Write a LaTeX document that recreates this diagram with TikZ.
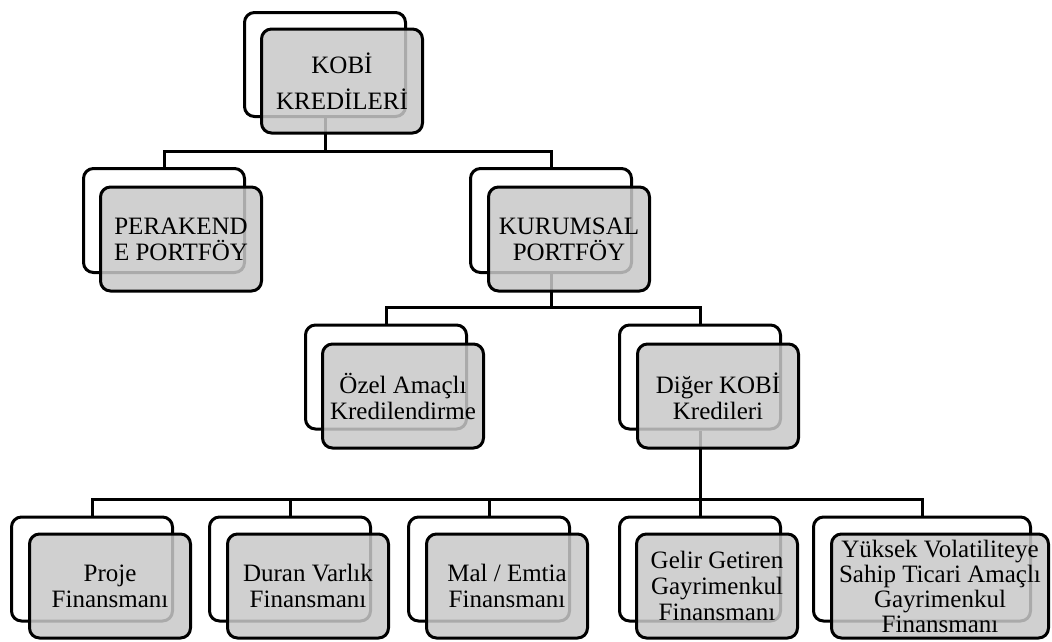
\documentclass[tikz,border=0pt]{standalone}
\usepackage{fontspec}
\setmainfont{Liberation Serif}
\definecolor{boxgray}{RGB}{200,200,200}
\tikzset{
  backbox/.style={draw, line width=3pt, rounded corners=10pt, fill=white,
    minimum width=161pt, minimum height=104pt},
  frontbox/.style={draw, line width=3pt, rounded corners=10pt, fill=boxgray,
    fill opacity=0.85, text opacity=1, minimum width=161pt, minimum height=104pt,
    align=center, inner sep=2pt, font=\fontsize{25}{26}\selectfont},
  link/.style={draw, line width=3pt}
}
\begin{document}
\begin{tikzpicture}[x=1pt,y=-1pt]
\useasboundingbox (0,0) rectangle (1052,641);

% back boxes
\node[backbox] (kobiB) at (325,64.5) {};
\node[backbox] (perB) at (164,220.5) {};
\node[backbox] (kurB) at (551,220.5) {};
\node[backbox] (ozelB) at (386,377) {};
\node[backbox] (digB) at (700,377) {};
\node[backbox] (p1B) at (92,569) {};
\node[backbox] (p2B) at (290,569) {};
\node[backbox] (p3B) at (489,569) {};
\node[backbox] (p4B) at (700,569) {};
\node[backbox, minimum width=217pt] (p5B) at (922,569) {};

% bus lines
\coordinate (bus1) at (0,151);
\coordinate (bus2) at (0,307);
\coordinate (bus3) at (0,499);

\path[link] (kobiB.south) -- (kobiB.south |- bus1);
\path[link] (perB.north) |- (kobiB.south |- bus1) -| (kurB.north);
\path[link] (kurB.south) -- (kurB.south |- bus2);
\path[link] (ozelB.north) |- (kurB.south |- bus2) -| (digB.north);
\path[link] (digB.south) -- (p4B.north);
\path[link] (p1B.north) |- (digB.south |- bus3) -| (p5B.north);
\path[link] (p2B.north) -- (p2B.north |- bus3);
\path[link] (p3B.north) -- (p3B.north |- bus3);

% front boxes
\node[frontbox, font=\fontsize{25}{36}\selectfont] (kobiF) at (342,81) {KOBİ\\KREDİLERİ};
\node[frontbox] (perF) at (181,239) {PERAKEND\\E PORTFÖY};
\node[frontbox] (kurF) at (569,239) {KURUMSAL\\PORTFÖY};
\node[frontbox] (ozelF) at (403,396) {Özel Amaçlı\\Kredilendirme};
\node[frontbox] (digF) at (718,396) {Diğer KOBİ\\Kredileri};
\node[frontbox] (p1F) at (110,586) {Proje\\Finansmanı};
\node[frontbox] (p2F) at (308,586) {Duran Varlık\\Finansmanı};
\node[frontbox] (p3F) at (507,586) {Mal / Emtia\\Finansmanı};
\node[frontbox] (p4F) at (717,586) {Gelir Getiren\\Gayrimenkul\\Finansmanı};
\node[frontbox, minimum width=217pt, font=\fontsize{25}{25}\selectfont] (p5F) at (940,586)
  {Yüksek Volatiliteye\\Sahip Ticari Amaçlı\\Gayrimenkul\\Finansmanı};
\end{tikzpicture}
\end{document}
